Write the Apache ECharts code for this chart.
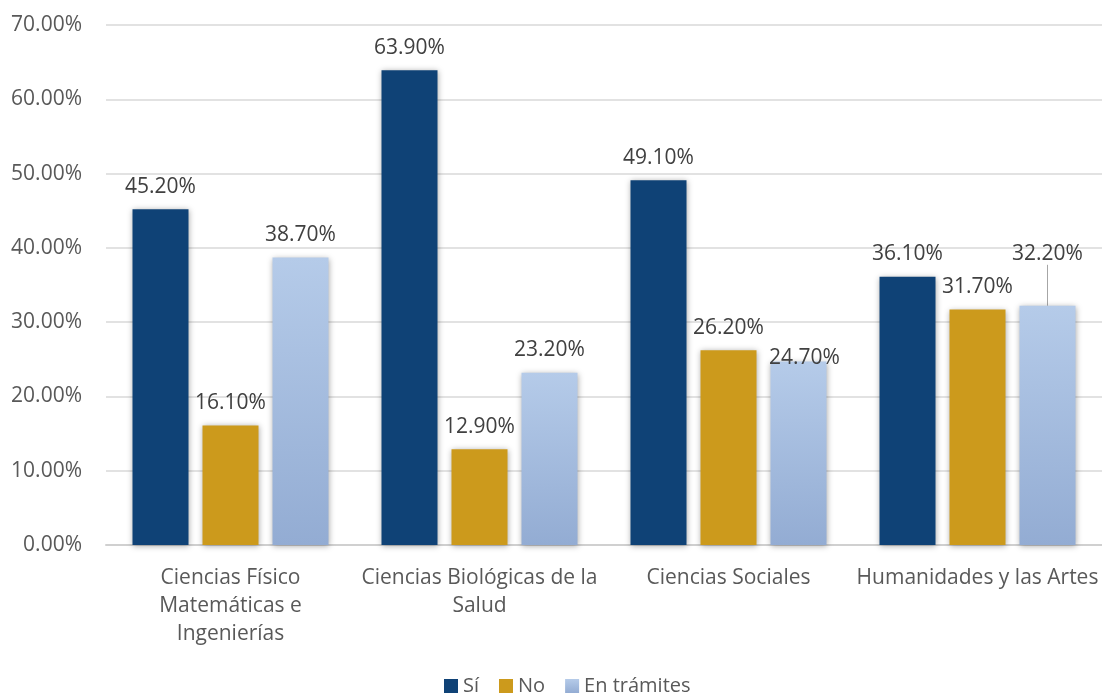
<!DOCTYPE html>
<html>
<head>
<meta charset="utf-8">
<script src="https://cdn.jsdelivr.net/npm/echarts@6/dist/echarts.min.js"></script>
<style>html,body{margin:0;padding:0;background:#fff}#c{width:1102px;height:696px}</style>
</head>
<body>
<div id="c"></div>
<script>
const categories = ['Ciencias Físico\nMatemáticas e\nIngenierías', 'Ciencias Biológicas de la\nSalud', 'Ciencias Sociales', 'Humanidades y las Artes'];
const seriesNames = ['Sí', 'No', 'En trámites'];
const si = [45.2, 63.9, 49.1, 36.1];
const no = [16.1, 12.9, 26.2, 31.7];
const enTramites = [38.7, 23.2, 24.7, 32.2];

const FONT = 'Open Sans';
const chart = echarts.init(document.getElementById('c'));
const barShadow = {shadowBlur: 6, shadowColor: 'rgba(0,0,0,0.35)', shadowOffsetX: 0, shadowOffsetY: 1};
const labelCfg = {
  show: true, position: 'top', distance: 12, color: '#404040', fontFamily: FONT, fontSize: 21,
  formatter: p => p.value.toFixed(2) + '%'
};
const colors = {
  si: '#0f4276',
  no: '#cc9a1c',
  en: new echarts.graphic.LinearGradient(0, 0, 0, 1, [{offset: 0, color: '#b5cbe9'}, {offset: 1, color: '#93acd3'}])
};
// only the last "En trámites" label is pulled away with a leader line
const enData = enTramites.map((v, i) => i === 3
  ? {value: v, labelLine: {show: true, lineStyle: {color: '#a6a6a6', width: 1}}}
  : {value: v, labelLine: {show: false}});
chart.setOption({
  animation: false,
  textStyle: {fontFamily: FONT},
  grid: {left: 106, right: 0, top: 25, bottom: 151, containLabel: false},
  legend: {
    data: seriesNames, bottom: 0, left: 439, itemWidth: 14, itemHeight: 14, itemGap: 20, icon: 'rect',
    padding: [0, 5, 0, 5],
    textStyle: {fontFamily: FONT, fontSize: 20, color: '#595959'}
  },
  xAxis: {
    type: 'category', data: categories,
    axisLine: {lineStyle: {color: '#d0d0d0', width: 2}},
    axisTick: {show: false},
    axisLabel: {interval: 0, color: '#595959', fontFamily: FONT, fontSize: 21, lineHeight: 28, margin: 19}
  },
  yAxis: {
    type: 'value', min: 0, max: 70, interval: 10,
    axisLine: {show: false}, axisTick: {show: false},
    splitLine: {lineStyle: {color: '#d9d9d9', width: 1.5}},
    axisLabel: {color: '#595959', fontFamily: FONT, fontSize: 21, margin: 24, formatter: v => v.toFixed(2) + '%'}
  },
  series: [
    {name: seriesNames[0], type: 'bar', data: si, barWidth: 56, barGap: '25%', barCategoryGap: '21.6%',
     itemStyle: Object.assign({color: colors.si}, barShadow), label: labelCfg},
    {name: seriesNames[1], type: 'bar', data: no, barWidth: 56,
     itemStyle: Object.assign({color: colors.no}, barShadow), label: labelCfg},
    {name: seriesNames[2], type: 'bar', data: enData, barWidth: 56,
     itemStyle: Object.assign({color: colors.en}, barShadow), label: labelCfg,
     labelLayout: function (p) {
       if (p.dataIndex === 2) return {dx: 6, dy: 19};
       if (p.dataIndex === 3) return {dy: -29};
       return {};
     }}
  ]
});
</script>
</body>
</html>
